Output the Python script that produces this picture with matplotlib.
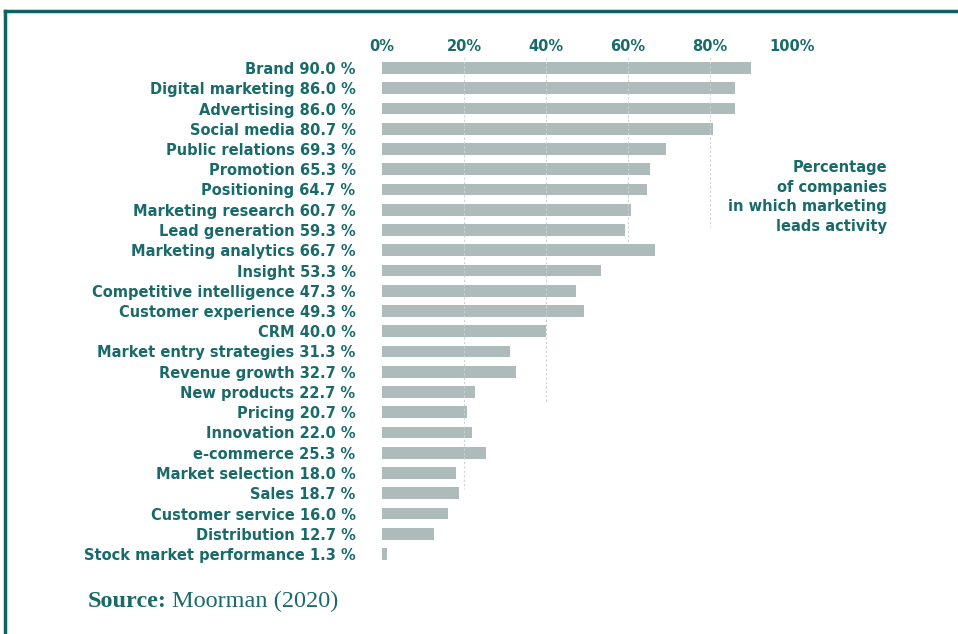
import matplotlib.pyplot as plt
from matplotlib.lines import Line2D

# data
categories = [
    "Brand", "Digital marketing", "Advertising", "Social media", "Public relations",
    "Promotion", "Positioning", "Marketing research", "Lead generation",
    "Marketing analytics", "Insight", "Competitive intelligence", "Customer experience",
    "CRM", "Market entry strategies", "Revenue growth", "New products", "Pricing",
    "Innovation", "e-commerce", "Market selection", "Sales", "Customer service",
    "Distribution", "Stock market performance",
]
values = [
    90.0, 86.0, 86.0, 80.7, 69.3, 65.3, 64.7, 60.7, 59.3, 66.7, 53.3, 47.3, 49.3,
    40.0, 31.3, 32.7, 22.7, 20.7, 22.0, 25.3, 18.0, 18.7, 16.0, 12.7, 1.3,
]
tick_values = [0, 20, 40, 60, 80, 100]
tick_labels = ["0%", "20%", "40%", "60%", "80%", "100%"]
# row index (from top) where each dashed gridline stops
grid_stop = {20: 20.8, 40: 16.5, 60: 8.6, 80: 7.85, 100: 1.35}

teal = "#1a6a6a"
border = "#0e6262"
bar_color = "#adbbbb"
font = "DejaVu Sans"

W, H = 958, 634
fig = plt.figure(figsize=(W / 100, H / 100), dpi=100)

# axes: value 0 at x=382px, 100 at x=792px; row 0 at y=68px, row 24 at y=554px
row_px = (554 - 68) / 24
top_px = 68 - 0.5 * row_px
bot_px = 554 + 0.5 * row_px
ax = fig.add_axes([382 / W, 1 - bot_px / H, (792 - 382) / W, (bot_px - top_px) / H])

n = len(categories)
rows = list(range(n))
ax.barh(rows, values, height=0.57, color=bar_color, zorder=2)

for v, stop in grid_stop.items():
    ax.vlines(v, -0.55, stop, colors="#ccd3d3", linestyles=(0, (2, 2)),
              linewidth=0.8, zorder=3)

ax.set_xlim(0, 100)
ax.set_ylim(n - 0.5, -0.5)
ax.set_yticks(rows)
ax.set_yticklabels([f"{c} {v:.1f} %" for c, v in zip(categories, values)],
                   fontsize=10.5, fontweight="bold", color=teal, family=font)
ax.tick_params(axis="y", length=0, pad=19)

ax.xaxis.tick_top()
ax.set_xticks(tick_values)
ax.set_xticklabels(tick_labels, fontsize=10.5, fontweight="bold", color=teal, family=font)
ax.tick_params(axis="x", length=0, pad=3)

for s in ax.spines.values():
    s.set_visible(False)
ax.set_facecolor("none")

# annotation
fig.text(887 / W, 1 - 160 / H,
         "Percentage\nof companies\nin which marketing\nleads activity",
         ha="right", va="top", multialignment="right", fontsize=10.5,
         fontweight="bold", color=teal, family=font, linespacing=1.38)

# source line
src = fig.text(88 / W, 1 - 607 / H, "Source:", ha="left", va="baseline",
               fontsize=17.5, fontweight="bold", color=teal, family="Liberation Serif")
fig.canvas.draw()
bb = src.get_window_extent()
fig.text(bb.x1 / W + 5 / W, 1 - 607 / H, "Moorman (2020)", ha="left", va="baseline",
         fontsize=17.5, color=teal, family="Liberation Serif")

# frame lines: top and left
fig.add_artist(Line2D([5 / W, 1], [1 - 11 / H, 1 - 11 / H], color=border, linewidth=2.5,
                      transform=fig.transFigure))
fig.add_artist(Line2D([5 / W, 5 / W], [0, 1 - 11 / H], color=border, linewidth=2.5,
                      transform=fig.transFigure))

fig.savefig("out.png", dpi=100)
